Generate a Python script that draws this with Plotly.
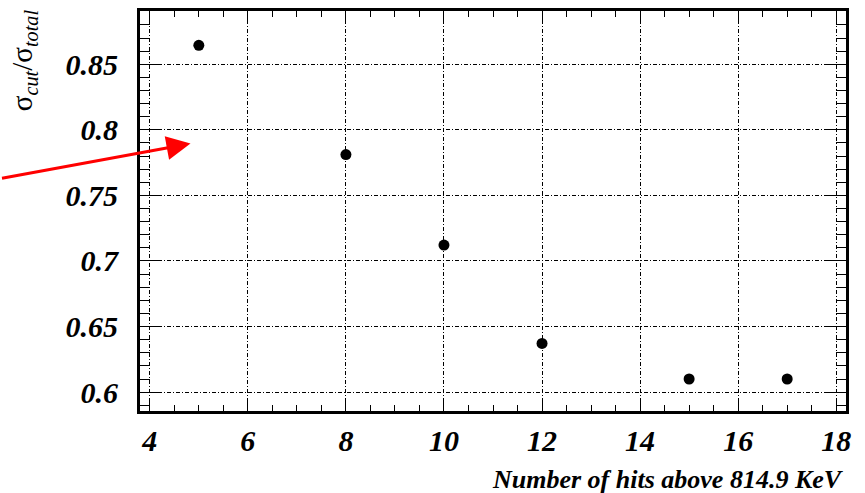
import plotly.graph_objects as go

# Fraction of the cross section kept by the cut, vs. the hit-count threshold
n_hits = [5, 8, 10, 12, 15, 17]
sigma_ratio = [0.8644, 0.7811, 0.7121, 0.6371, 0.6100, 0.6100]

x_ticks = [4, 6, 8, 10, 12, 14, 16, 18]
x_labels = ["4", "6", "8", "10", "12", "14", "16", "18"]
y_ticks = [0.6, 0.65, 0.7, 0.75, 0.8, 0.85]
y_labels = ["0.6", "0.65", "0.7", "0.75", "0.8", "0.85"]

x_range = [3.8, 18.2]
y_range = [0.5856, 0.8906]

# pointer arrow: head position in data units, tail offset in pixels
arrow_head = (4.83, 0.7895)
arrow_tail_offset = (-190, 35)

FONT = "Liberation Serif, Times New Roman, serif"
tick_font = dict(family=FONT, size=30, color="black", weight="bold", style="italic")

fig = go.Figure()
fig.add_trace(go.Scatter(
    x=n_hits, y=sigma_ratio, mode="markers",
    marker=dict(color="black", size=11, symbol="circle"),
    showlegend=False, hoverinfo="x+y",
))

grid_style = dict(showgrid=True, gridcolor="black", gridwidth=1, griddash="4px,2px,1px,2px")

fig.update_xaxes(
    range=x_range, tickvals=x_ticks, ticktext=x_labels,
    ticks="inside", ticklen=12, tickwidth=1.2, tickcolor="black",
    minor=dict(ticks="inside", ticklen=6, dtick=0.5, tickcolor="black", tickwidth=1.2, showgrid=False),
    showline=True, linewidth=3, linecolor="black", mirror="allticks",
    tickfont=tick_font, ticklabelstandoff=1, zeroline=False,
    **grid_style,
)
fig.update_yaxes(
    range=y_range, tickvals=y_ticks, ticktext=y_labels,
    ticks="inside", ticklen=20, tickwidth=1.2, tickcolor="black",
    minor=dict(ticks="inside", ticklen=10, dtick=0.01, tick0=0.6, tickcolor="black", tickwidth=1.2, showgrid=False),
    showline=True, linewidth=3, linecolor="black", mirror="allticks",
    tickfont=tick_font, ticklabelstandoff=13, zeroline=False,
    **grid_style,
)

fig.add_annotation(
    text="Number of hits above 814.9 KeV",
    xref="paper", yref="paper", x=1.0, y=-0.171,
    xanchor="right", yanchor="middle", showarrow=False,
    font=dict(family=FONT, size=26, color="black", weight="bold", style="italic"),
)
fig.add_annotation(
    text="σ<sub><i>cut</i></sub>/σ<sub><i>total</i></sub>",
    xref="paper", yref="paper", x=-0.164, y=1.01,
    xanchor="center", yanchor="top", textangle=-90, showarrow=False,
    font=dict(family=FONT, size=29, color="black"),
)
fig.add_annotation(
    x=arrow_head[0], y=arrow_head[1], xref="x", yref="y",
    ax=arrow_tail_offset[0], ay=arrow_tail_offset[1],
    showarrow=True, arrowhead=2, arrowsize=1.6, arrowwidth=3, arrowcolor="#ff0000",
    text="",
)

fig.update_layout(
    width=865, height=493,
    margin=dict(l=140, r=19, t=8, b=82),
    paper_bgcolor="white", plot_bgcolor="white",
)

fig.write_html("out.html")
